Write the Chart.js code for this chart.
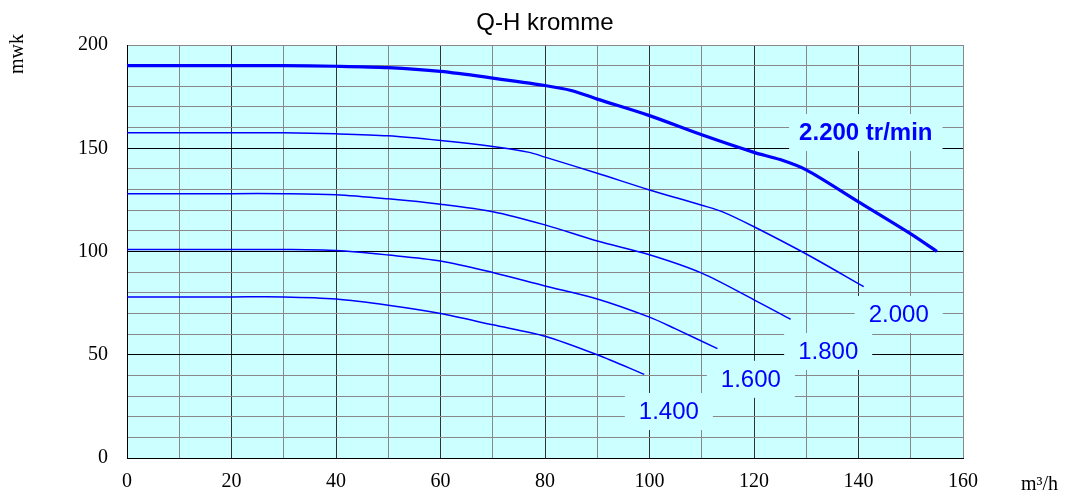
<!DOCTYPE html>
<html>
<head>
<meta charset="utf-8">
<script src="https://cdn.jsdelivr.net/npm/chart.js@4/dist/chart.umd.min.js"></script>
<style>
    html, body { margin: 0; padding: 0; background: #fff; }
    #wrap { width: 1067px; height: 495px; }
</style>
</head>
<body>
<div id="wrap"><canvas id="qh-chart"></canvas></div>
<script>
// flow in m3/h and head in mwk
const flow2200 = [0, 20, 30, 40, 50, 60, 70, 80, 85, 90, 100, 110, 120, 125, 130, 140, 150, 155];
const head2200 = [190, 190, 190, 189.7, 189, 187.2, 184, 180.4, 178, 173.8, 165.8, 156.5, 148, 144.5, 139.5, 124, 108.5, 100];

const flow2000 = [0, 20, 30, 40, 50, 60, 70, 77, 80, 90, 100, 110, 114, 120, 130, 141];
const head2000 = [157.5, 157.5, 157.5, 157, 156, 153.7, 150.8, 148, 145.7, 137.9, 129.8, 122.4, 119.2, 112, 98.8, 83];

const flow1800 = [0, 20, 30, 40, 50, 60, 70, 80, 90, 100, 110, 120, 127];
const head1800 = [128, 128, 128, 127.5, 125.5, 122.9, 119.3, 112.9, 105.1, 98.4, 89.5, 76.6, 67.2];

const flow1600 = [0, 20, 30, 40, 50, 60, 70, 80, 90, 100, 105, 113];
const head1600 = [101, 101, 101, 100.5, 98.3, 95.4, 89.8, 83.3, 77, 68.2, 62.5, 53];

const flow1400 = [0, 20, 30, 40, 50, 60, 70, 80, 90, 99];
const head1400 = [78, 78, 78, 77, 74, 70, 64.5, 59, 50, 40.5];

// curve labels, anchored in data units
const curveLabels = ["2.200 tr/min", "2.000", "1.800", "1.600", "1.400"];
const labelX = [141.4, 147.7, 134.2, 119.4, 103.7];
const labelY = [157.6, 69.5, 51.6, 38.1, 22.5];

const xTicks = [0, 20, 40, 60, 80, 100, 120, 140, 160];
const yTicks = [0, 50, 100, 150, 200];

const BLUE = "#0000ff";
const SANS = "'Liberation Sans', Arial, sans-serif";
const SERIF = "'Liberation Serif', 'Times New Roman', serif";

function toPoints(xs, ys) {
    return xs.map((x, i) => ({ x: x, y: ys[i] }));
}

function curve(xs, ys, width) {
    return {
        data: toPoints(xs, ys),
        borderColor: BLUE,
        borderWidth: width,
        pointRadius: 0,
        fill: false,
        tension: 0.3,
    };
}

const plotBackground = {
    id: "plotBackground",
    beforeDraw(chart) {
        let { ctx, chartArea } = chart;
        ctx.save();
        ctx.fillStyle = "#ccffff";
        ctx.fillRect(chartArea.left, chartArea.top, chartArea.width, chartArea.height);
        ctx.restore();
    },
};

// label boxes sit on top of the grid, under the curves
const labelBoxes = {
    id: "labelBoxes",
    beforeDatasetsDraw(chart) {
        let ctx = chart.ctx;
        let xs = chart.scales.x, ys = chart.scales.y;
        ctx.save();
        curveLabels.forEach((text, i) => {
            ctx.font = (i === 0 ? "bold " : "") + "24px " + SANS;
            let w = ctx.measureText(text).width + (i === 0 ? 20 : 28);
            let h = 37;
            let cx = xs.getPixelForValue(labelX[i]);
            let cy = ys.getPixelForValue(labelY[i]);
            ctx.fillStyle = "#ccffff";
            ctx.fillRect(cx - w / 2, cy - h / 2, w, h);
            ctx.fillStyle = BLUE;
            ctx.textAlign = "center";
            ctx.textBaseline = "middle";
            ctx.fillText(text, cx, cy + 1);
        });
        ctx.restore();
    },
};

const extraText = {
    id: "extraText",
    afterDraw(chart) {
        let { ctx, chartArea } = chart;
        ctx.save();
        ctx.fillStyle = "#000";
        ctx.textAlign = "center";
        ctx.textBaseline = "middle";
        ctx.font = "24px " + SANS;
        ctx.fillText("Q-H kromme", (chartArea.left + chartArea.right) / 2, 23);

        ctx.font = "20px " + SERIF;
        ctx.textAlign = "left";
        ctx.fillText("m³/h", 1021, 485);

        ctx.translate(18, 54);
        ctx.rotate(-Math.PI / 2);
        ctx.textAlign = "center";
        ctx.fillText("mwk", 0, 0);
        ctx.restore();
    },
};

let ctx = document.getElementById("qh-chart").getContext("2d");

let qhChart = new Chart(ctx, {
    type: "line",
    data: {
        datasets: [
            curve(flow2200, head2200, 3.2),
            curve(flow2000, head2000, 1.5),
            curve(flow1800, head1800, 1.5),
            curve(flow1600, head1600, 1.5),
            curve(flow1400, head1400, 1.5),
        ],
    },
    options: {
        responsive: true,
        maintainAspectRatio: false,
        animation: false,
        layout: { padding: { top: 45, right: 104, bottom: 0, left: 0 } },
        plugins: {
            legend: { display: false },
            title: { display: false },
            tooltip: { enabled: false },
        },
        scales: {
            x: {
                type: "linear",
                min: 0,
                max: 160,
                afterFit: (scale) => { scale.height = 37; },
                ticks: {
                    stepSize: 10,
                    autoSkip: false,
                    maxRotation: 0,
                    padding: 12,
                    color: "#000",
                    font: { family: SERIF, size: 20 },
                    callback: (v) => (xTicks.includes(v) ? v : ""),
                },
                grid: {
                    drawTicks: false,
                    lineWidth: 1,
                    color: (c) => {
                        let v = c.tick.value;
                        if (v === 160) return "#888";
                        return v % 20 === 0 ? "#333" : "#888";
                    },
                },
                border: { display: true, color: "#000", width: 1 },
            },
            y: {
                min: 0,
                max: 200,
                afterFit: (scale) => { scale.width = 127; },
                ticks: {
                    stepSize: 10,
                    autoSkip: false,
                    padding: 19,
                    color: "#000",
                    font: { family: SERIF, size: 20 },
                    callback: (v) => (yTicks.includes(v) ? v : ""),
                },
                grid: {
                    drawTicks: false,
                    lineWidth: 1,
                    color: (c) => {
                        let v = c.tick.value;
                        if (v === 200) return "#888";
                        return v % 50 === 0 ? "#000" : "#888";
                    },
                },
                border: { display: true, color: "#000", width: 1 },
            },
        },
    },
    plugins: [plotBackground, labelBoxes, extraText],
});
</script>
</body>
</html>
